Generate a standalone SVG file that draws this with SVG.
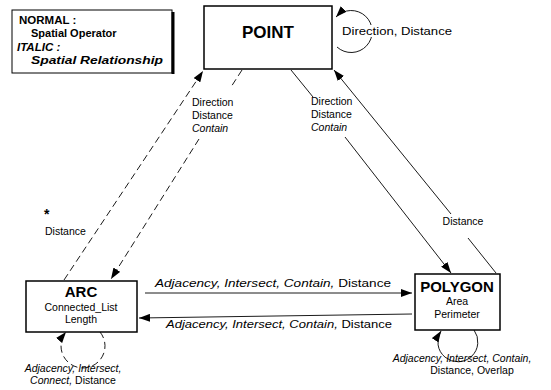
<svg xmlns="http://www.w3.org/2000/svg" width="551" height="390" viewBox="0 0 551 390">
  <style>
    text { font-family: "Liberation Sans", Arial, Helvetica, sans-serif; fill: #000; }
    .t { font-size: 10.5px; }
    .i { font-style: italic; }
    .b { font-weight: bold; }
    .box { fill: #fff; stroke: #000; stroke-width: 1.5; }
    .ln { fill: none; stroke: #000; stroke-width: 0.9; }
    .dash { stroke-dasharray: 7 4; }
    .knock { fill: #fff; }
  </style>
  <defs>
    <marker id="ah" viewBox="0 0 11 8" refX="11" refY="4" markerWidth="11" markerHeight="8" markerUnits="userSpaceOnUse" orient="auto">
      <path d="M0,0 L11,4 L0,8 z" fill="#000"/>
    </marker>
  </defs>

  <rect width="551" height="390" fill="#fff"/>

  <!-- legend -->
  <g id="legend">
    <rect x="12" y="10" width="160" height="63" fill="#fff" stroke="#000" stroke-width="1"/>
    <line x1="173" y1="12" x2="173" y2="74" stroke="#000" stroke-width="3"/>
    <text class="b" font-size="11.5" x="19" y="24">NORMAL :</text>
    <text class="b" font-size="11" x="31" y="37">Spatial Operator</text>
    <text class="b i" font-size="11.5" x="17" y="51">ITALIC :</text>
    <text class="b i" font-size="11" x="31" y="64" textLength="132" lengthAdjust="spacingAndGlyphs">Spatial Relationship</text>
  </g>

  <!-- connectors -->
  <g id="connectors">
    <!-- ARC -> POINT : Distance -->
    <path class="ln dash" d="M64,280 L203,71" marker-end="url(#ah)"/>
    <!-- POINT -> ARC : Direction, Distance, Contain -->
    <path class="ln dash" d="M242,70 L231,87"/>
    <path class="ln dash" d="M199,139 L111,279" marker-end="url(#ah)"/>
    <!-- POINT -> POLYGON : Direction, Distance, Contain -->
    <path class="ln" d="M291,70 L313,97"/>
    <path class="ln" d="M345,137 L451,273" marker-end="url(#ah)"/>
    <!-- POLYGON -> POINT : Distance -->
    <path class="ln" d="M496,273 L468,238"/>
    <path class="ln" d="M451,214 L334,70" marker-end="url(#ah)"/>
    <!-- ARC -> POLYGON -->
    <path class="ln" d="M145,293 L412,293" marker-end="url(#ah)"/>
    <!-- POLYGON -> ARC -->
    <path class="ln" d="M412,314 L139,318" marker-end="url(#ah)"/>
    <!-- self loops -->
    <path class="ln" d="M337,47 A21,21 0 1 0 336,17" marker-end="url(#ah)"/>
    <path class="ln dash" d="M100,332 A22,22 0 1 1 66,332" marker-end="url(#ah)"/>
    <path class="ln" d="M474,330 A20,20 0 1 1 441,331" marker-end="url(#ah)"/>

    <!-- labels -->
    <text class="b" x="44" y="219" font-size="14">*</text>
    <text class="t" x="45" y="235">Distance</text>

    <text class="t" x="192" y="106">Direction</text>
    <text class="t" x="192" y="119">Distance</text>
    <text class="t i" x="192" y="132">Contain</text>

    <text class="t" x="311" y="105">Direction</text>
    <text class="t" x="311" y="118">Distance</text>
    <text class="t i" x="311" y="131">Contain</text>

    <text class="t" x="463" y="225" text-anchor="middle">Distance</text>

    <text class="t" x="155" y="287" textLength="236" lengthAdjust="spacingAndGlyphs"><tspan class="i">Adjacency, Intersect, Contain,</tspan>  Distance</text>
    <text class="t" x="166" y="328" textLength="226" lengthAdjust="spacingAndGlyphs"><tspan class="i">Adjacency, Intersect, Contain,</tspan>  Distance</text>

    <rect class="knock" x="341" y="25" width="114" height="12"/>
    <text class="t" x="342" y="35" textLength="110" lengthAdjust="spacingAndGlyphs">Direction, Distance</text>

    <text class="t" x="73" y="372" text-anchor="middle"><tspan class="i">Adjacency, Intersect,</tspan></text>
    <text class="t" x="73" y="384" text-anchor="middle"><tspan class="i">Connect,</tspan> Distance</text>

    <text class="t" x="462" y="362" text-anchor="middle"><tspan class="i">Adjacency, Intersect, Contain,</tspan></text>
    <text class="t" x="472" y="374" text-anchor="middle">Distance, Overlap</text>
  </g>

  <!-- nodes -->
  <g id="point">
    <rect class="box" x="204" y="6" width="128" height="63"/>
    <text class="b" font-size="17" x="268" y="38" text-anchor="middle">POINT</text>
  </g>
  <g id="arc">
    <rect class="box" x="26" y="281" width="111" height="51"/>
    <text class="b" font-size="15" x="81" y="297" text-anchor="middle">ARC</text>
    <text class="t" x="81" y="311" text-anchor="middle">Connected_List</text>
    <text class="t" x="81" y="323" text-anchor="middle">Length</text>
  </g>
  <g id="polygon">
    <rect class="box" x="415" y="274" width="85" height="56"/>
    <text class="b" font-size="15" x="457" y="292" text-anchor="middle">POLYGON</text>
    <text class="t" x="457" y="305" text-anchor="middle">Area</text>
    <text class="t" x="457" y="318" text-anchor="middle">Perimeter</text>
  </g>
</svg>
